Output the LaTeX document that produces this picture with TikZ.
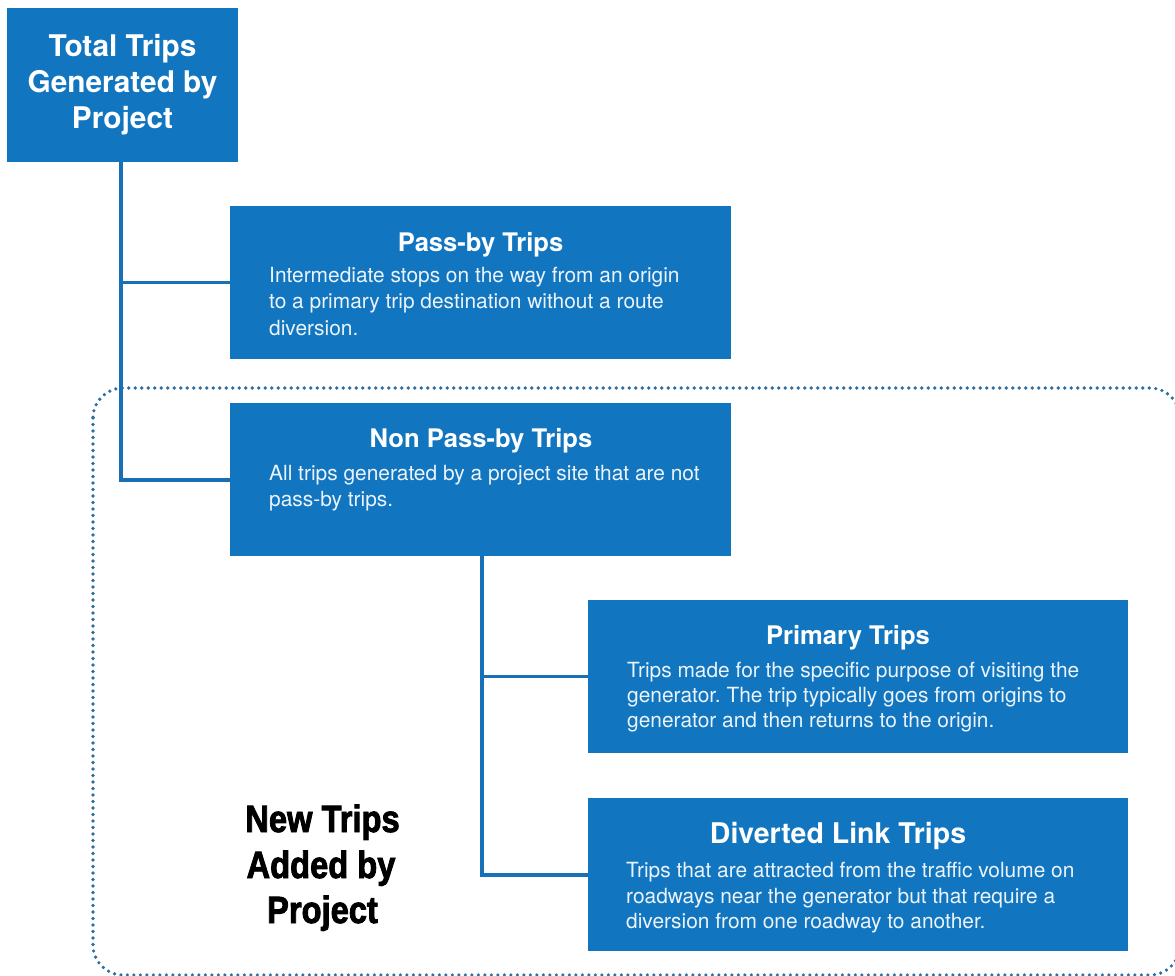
\documentclass[tikz,border=0pt]{standalone}
\usepackage{fontspec}
\setmainfont{TeX Gyre Heros}
\newfontfamily\condfont[FakeStretch=0.86,BoldFeatures={FakeBold=2.2}]{Liberation Sans}
\definecolor{boxblue}{RGB}{17,118,191}
\definecolor{lineblue}{RGB}{24,112,182}
\definecolor{dotblue}{RGB}{44,110,160}
\definecolor{bodytext}{RGB}{236,243,250}
\frenchspacing
\tikzset{
  bluebox/.style={fill=boxblue, draw=none, anchor=north west, inner sep=0pt, outer sep=0pt},
  conn/.style={draw=lineblue, line width=3.3pt},
  dotborder/.style={draw=dotblue, line width=3.6pt, line cap=round, dash pattern=on 0pt off 6.5pt, rounded corners=30pt},
  toptxt/.style={font=\bfseries\fontsize{29.8}{34}\selectfont, text=white, anchor=base, inner sep=0pt},
  ttl/.style={font=\bfseries\fontsize{25.6}{29}\selectfont, text=white, anchor=base, inner sep=0pt},
  bigttl/.style={font=\bfseries\fontsize{28.5}{33}\selectfont, text=white, anchor=base, inner sep=0pt},
  body/.style={font=\fontsize{20.9}{24}\selectfont, text=bodytext, anchor=base west, inner sep=0pt},
  newtxt/.style={font=\condfont\bfseries\fontsize{38}{44}\selectfont, text=black, anchor=base, inner sep=0pt}
}
\begin{document}
\begin{tikzpicture}[x=1pt, y=-1pt]
\useasboundingbox (0,0) rectangle (1175,975);
\begin{scope}
  \clip (0,0) rectangle (1175,975);
  \draw[dotborder] (93,388) rectangle (1180,975);
\end{scope}

% boxes
\node[bluebox, minimum width=231pt, minimum height=154pt] (top) at (7,8) {};
\node[bluebox, minimum width=501pt, minimum height=153pt] (passby) at (230,206) {};
\node[bluebox, minimum width=501pt, minimum height=153pt] (nonpass) at (230,403) {};
\node[bluebox, minimum width=540pt, minimum height=153pt] (primary) at (588,600) {};
\node[bluebox, minimum width=540pt, minimum height=153pt] (diverted) at (588,798) {};

% connectors
\coordinate (j1) at (121,480);
\coordinate (j2) at (482,875);
\draw[conn] (top.south -| j1) -- (j1) -- (j1 -| nonpass.west);
\draw[conn] (j1 |- passby.west) -- (passby.west);
\draw[conn] (nonpass.south -| j2) -- (j2) -- (j2 -| diverted.west);
\draw[conn] (j2 |- primary.west) -- (primary.west);

% top box text
\node[toptxt] (t1) at (122.5,56) {Total Trips};
\node[toptxt] (t2) at (122.5,92) {Generated by};
\node[toptxt] (t3) at (122.5,128) {Project};

% pass-by
\node[ttl] (pt) at (480.5,251) {Pass-by Trips};
\node[body] (pb1) at (269,282) {Intermediate stops on the way from an origin};
\node[body] (pb2) at (269,308.5) {to a primary trip destination without a route};
\node[body] (pb3) at (269,335) {diversion.};

% non pass-by
\node[ttl] (nt) at (481,447) {Non Pass-by Trips};
\node[body] (nb1) at (269,480) {All trips generated by a project site that are not};
\node[body] (nb2) at (269,506) {pass-by trips.};

% primary
\node[ttl] (prt) at (848,644) {Primary Trips};
\node[body] (prb1) at (627,677) {Trips made for the specific purpose of visiting the};
\node[body] (prb2) at (627,702) {generator. The trip typically goes from origins to};
\node[body] (prb3) at (627,727.5) {generator and then returns to the origin.};

% diverted
\node[bigttl] (dt) at (838,843) {Diverted Link Trips};
\node[body] (db1) at (626,877) {Trips that are attracted from the traffic volume on};
\node[body] (db2) at (626,903) {roadways near the generator but that require a};
\node[body] (db3) at (626,928.5) {diversion from one roadway to another.};

% new trips label
\node[newtxt] (n1) at (322.5,832) {New Trips};
\node[newtxt] (n2) at (321,878) {Added by};
\node[newtxt] (n3) at (322.5,923) {Project};
\end{tikzpicture}
\end{document}
